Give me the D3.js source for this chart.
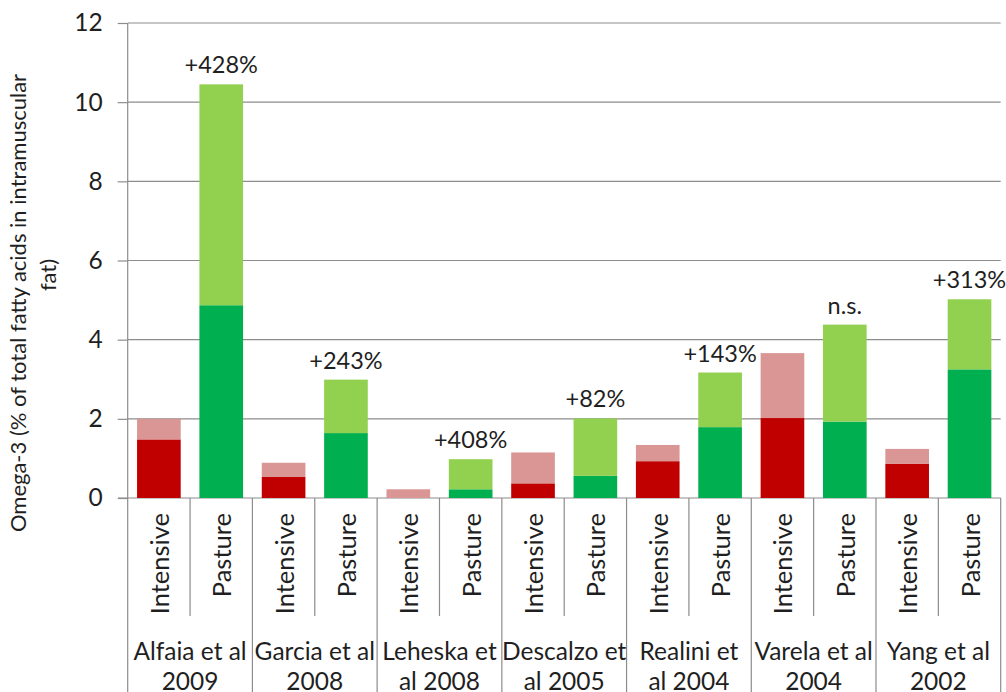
<!DOCTYPE html>
<html>
<head>
<meta charset="utf-8">
<script src="https://cdn.jsdelivr.net/npm/d3@7"></script>
<style>
  html, body { margin: 0; padding: 0; background: #fff; }
  svg { display: block; font-family: Lato, "Open Sans", sans-serif; }
</style>
</head>
<body>
<svg id="chart" width="1006" height="692"></svg>
<script>
// ---- data ----
const studies = [
  ["Alfaia et al", "2009"],
  ["Garcia et al", "2008"],
  ["Leheska et", "al 2008"],
  ["Descalzo et", "al 2005"],
  ["Realini et", "al 2004"],
  ["Varela et al", "2004"],
  ["Yang et al", "2002"]
];
const systems = ["Intensive", "Pasture"];
const intensiveLower = [1.48, 0.53, 0.00, 0.37, 0.93, 2.02, 0.86];
const intensiveTotal = [2.00, 0.89, 0.22, 1.15, 1.34, 3.66, 1.24];
const pastureLower   = [4.87, 1.64, 0.22, 0.56, 1.79, 1.93, 3.25];
const pastureTotal   = [10.45, 2.99, 0.98, 2.01, 3.17, 4.38, 5.02];
const changeLabels   = ["+428%", "+243%", "+408%", "+82%", "+143%", "n.s.", "+313%"];
const yTicks = [0, 2, 4, 6, 8, 10, 12];
const yTitle = ["Omega-3 (% of total fatty acids in intramuscular", "fat)"];

// ---- build table ----
const rows = [];
studies.forEach((s, i) => {
  rows.push({ key: i + "|Intensive", study: i, system: "Intensive",
              lower: intensiveLower[i], upper: intensiveTotal[i] - intensiveLower[i] });
  rows.push({ key: i + "|Pasture", study: i, system: "Pasture",
              lower: pastureLower[i], upper: pastureTotal[i] - pastureLower[i] });
});

const colors = {
  Intensive: { lower: "#C00000", upper: "#D99694" },
  Pasture:   { lower: "#00B050", upper: "#92D050" }
};

const svg = d3.select("#chart");
const pLeft = 127.7, pRight = 1000.7, pTop = 23, pBottom = 498;

const x = d3.scaleBand().domain(rows.map(d => d.key))
  .range([pLeft, pRight]).paddingInner(0.3).paddingOuter(0.15);
const y = d3.scaleLinear().domain([0, 12]).range([pBottom, pTop]);

const grid = "#8c8c8c";
const textColor = "#1f1f1f";

// gridlines
svg.append("g").selectAll("line").data(yTicks.filter(t => t > 0)).join("line")
  .attr("x1", pLeft).attr("x2", pRight)
  .attr("y1", d => y(d)).attr("y2", d => y(d))
  .attr("stroke", grid).attr("stroke-width", 1.2);

// y axis
const yAxis = svg.append("g").attr("transform", `translate(${pLeft},0)`)
  .call(d3.axisLeft(y).tickValues(yTicks).tickSize(10).tickPadding(15).tickFormat(d3.format("d")));
yAxis.select(".domain").remove();
yAxis.selectAll(".tick line").attr("stroke", grid).attr("stroke-width", 1.2);
yAxis.selectAll(".tick text").attr("font-size", 24.5).attr("fill", textColor)
  .attr("font-family", "Lato, sans-serif");
svg.append("line").attr("x1", pLeft).attr("x2", pLeft).attr("y1", pTop).attr("y2", 692)
  .attr("stroke", grid).attr("stroke-width", 1.2);

// x axis baseline
svg.append("line").attr("x1", 118).attr("x2", pRight).attr("y1", pBottom).attr("y2", pBottom)
  .attr("stroke", grid).attr("stroke-width", 1.2);

// stacked bars
const stack = d3.stack().keys(["lower", "upper"]);
const series = stack(rows);
series.forEach(s => {
  svg.append("g").selectAll("rect").data(s).join("rect")
    .attr("x", d => x(d.data.key))
    .attr("width", x.bandwidth())
    .attr("y", d => y(d[1]))
    .attr("height", d => y(d[0]) - y(d[1]))
    .attr("fill", d => colors[d.data.system][s.key]);
});

// change labels above pasture bars
svg.append("g").selectAll("text").data(rows.filter(d => d.system === "Pasture")).join("text")
  .attr("x", d => x(d.key) + x.bandwidth() / 2)
  .attr("y", d => y(d.lower + d.upper) - 11)
  .attr("text-anchor", "middle")
  .attr("font-size", 23.5).attr("fill", textColor)
  .text(d => changeLabels[d.study]);

// category dividers
const step = x.step();
const dividers = [];
studies.forEach((s, i) => {
  dividers.push({ x: pLeft + i * 2 * step + step, long: false });
  if (i > 0) dividers.push({ x: pLeft + i * 2 * step, long: true });
});
dividers.push({ x: pRight, long: true });
svg.append("g").selectAll("line").data(dividers).join("line")
  .attr("x1", d => d.x).attr("x2", d => d.x)
  .attr("y1", pBottom).attr("y2", d => d.long ? 692 : 616)
  .attr("stroke", grid).attr("stroke-width", 1.2);

// system labels (rotated)
svg.append("g").selectAll("text").data(rows).join("text")
  .attr("transform", d => `translate(${x(d.key) + x.bandwidth() / 2 + 10},513) rotate(-90)`)
  .attr("text-anchor", "end")
  .attr("font-size", 25.5).attr("fill", textColor)
  .text(d => d.system);

// study labels
const sg = svg.append("g").selectAll("text").data(studies).join("text")
  .attr("text-anchor", "middle")
  .attr("font-size", 24.5).attr("fill", textColor);
sg.each(function(d, i) {
  const cx = pLeft + i * 2 * step + step;
  d3.select(this).selectAll("tspan").data(d).join("tspan")
    .attr("x", cx).attr("y", (t, j) => 660 + j * 30).text(t => t);
});

// y title
svg.append("text").attr("transform", "translate(26,303) rotate(-90)")
  .attr("text-anchor", "middle").attr("font-size", 22).attr("fill", textColor)
  .text(yTitle[0]);
svg.append("text").attr("transform", "translate(56,275) rotate(-90)")
  .attr("text-anchor", "middle").attr("font-size", 22).attr("fill", textColor)
  .text(yTitle[1]);
</script>
</body>
</html>
